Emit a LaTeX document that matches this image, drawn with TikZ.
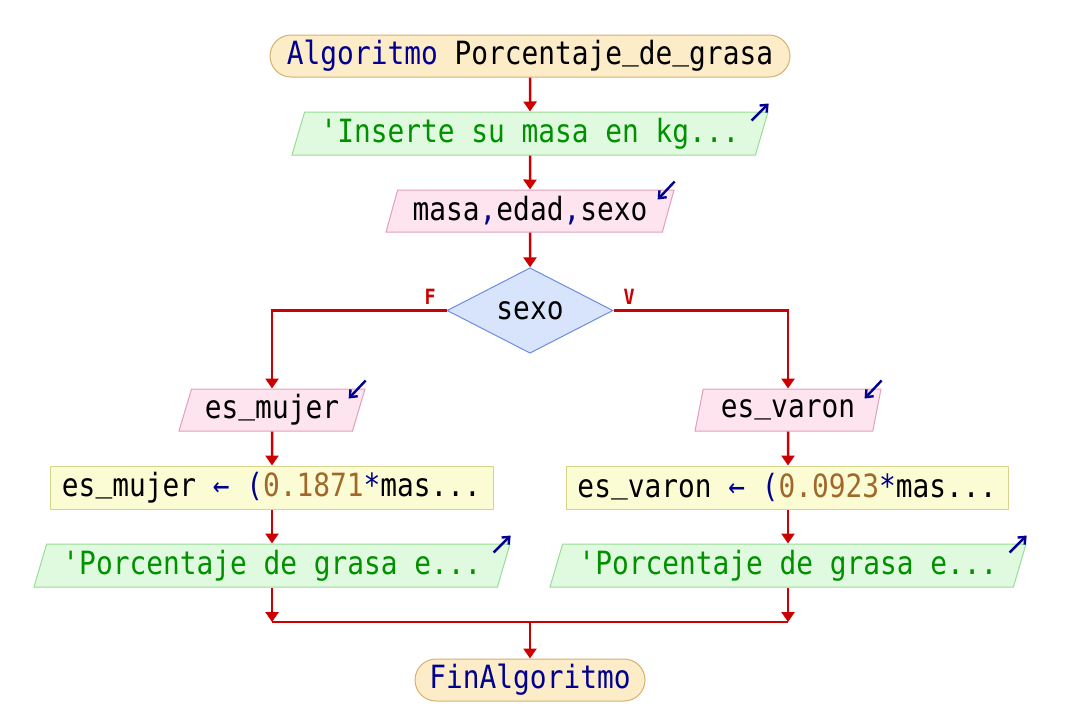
\documentclass[tikz,border=0pt]{standalone}
\usepackage{fontspec}
\usetikzlibrary{shapes.geometric,arrows.meta}
\newfontfamily\codefont[FakeStretch=0.87]{DejaVu Sans Mono}
% underscore sitting on the baseline, as in the code listing
\newcommand\usc{\raisebox{0.16em}{\_}}
\definecolor{termfill}{HTML}{FCECC8}
\definecolor{termline}{HTML}{D8B070}
\definecolor{outfill}{HTML}{E0FAE0}
\definecolor{outline}{HTML}{98DC98}
\definecolor{infill}{HTML}{FDE4EE}
\definecolor{inline}{HTML}{E0A0BC}
\definecolor{decfill}{HTML}{D8E4FC}
\definecolor{decline}{HTML}{6C8CE0}
\definecolor{asgfill}{HTML}{FCFCD4}
\definecolor{asgline}{HTML}{D4D48C}
\definecolor{flowred}{HTML}{CC0000}
\definecolor{kw}{HTML}{000090}
\definecolor{str}{HTML}{009000}
\definecolor{num}{HTML}{A0682A}
\begin{document}
\begin{tikzpicture}[x=1pt,y=-1pt,
  every node/.style={font=\codefont\fontsize{32}{35}\selectfont, inner sep=0pt},
  term/.style={rectangle, rounded corners=21pt, draw=termline, fill=termfill, line width=1pt, minimum height=42pt},
  outbox/.style={trapezium, trapezium left angle=68, trapezium right angle=112, trapezium stretches body,
    draw=outline, fill=outfill, line width=1pt, minimum height=43pt, text=str},
  inbox/.style={trapezium, trapezium left angle=68, trapezium right angle=112, trapezium stretches body,
    draw=inline, fill=infill, line width=1pt, minimum height=42pt},
  decbox/.style={diamond, draw=decline, fill=decfill, line width=1pt, minimum width=166pt, minimum height=85pt},
  asgbox/.style={rectangle, draw=asgline, fill=asgfill, line width=1pt, minimum height=43pt},
  flow/.style={draw=flowred, line width=2.5pt, -{Triangle[width=13pt,length=10pt]}},
  wire/.style={draw=flowred, line width=2.5pt},
  icon/.style={draw=kw, line width=2.4pt, -{Straight Barb[length=6pt,width=10pt]}},
  branch/.style={text=flowred, font=\codefont\bfseries\fontsize{21}{23}\selectfont}
]
\useasboundingbox (0,0) rectangle (1076,724);

% blocks of the main sequence
\node[term, minimum width=520pt] (start) at (530,56) {\textcolor{kw}{Algoritmo} Porcentaje\usc de\usc grasa};
\node[outbox, minimum width=476pt] (out1) at (530,133.5) {'Inserte su masa en kg...};
\node[inbox, minimum width=288pt] (in1) at (530,211) {masa\textcolor{kw}{,}edad\textcolor{kw}{,}sexo};
\node[decbox] (dec) at (530,310.5) {sexo};

% false branch
\node[inbox, minimum width=186pt] (inm) at (272,410) {es\usc mujer};
\node[asgbox, minimum width=443pt] (asgm) at (271.5,487.5) {es\usc mujer \textcolor{kw}{←} \textcolor{kw}{(}\textcolor{num}{0.1871}\textcolor{kw}{*}mas...};
\node[outbox, minimum width=476pt] (outm) at (272,565.5) {'Porcentaje de grasa e...};

% true branch
\node[inbox, minimum width=186pt] (inv) at (788,410) {es\usc varon};
\node[asgbox, minimum width=442pt] (asgv) at (787,487.5) {es\usc varon \textcolor{kw}{←} \textcolor{kw}{(}\textcolor{num}{0.0923}\textcolor{kw}{*}mas...};
\node[outbox, minimum width=476pt] (outv) at (788,565.5) {'Porcentaje de grasa e...};

\node[term, minimum width=230pt, text=kw] (fin) at (530,680) {FinAlgoritmo};
\coordinate (join) at (530,622);

% output / input markers
\draw[icon] ([shift={(-17,9)}]out1.top right corner) -- ([shift={(0,-8)}]out1.top right corner);
\draw[icon] ([shift={(-17,9)}]outm.top right corner) -- ([shift={(0,-8)}]outm.top right corner);
\draw[icon] ([shift={(-17,9)}]outv.top right corner) -- ([shift={(0,-8)}]outv.top right corner);
\draw[icon] ([shift={(0,-8)}]in1.top right corner) -- ([shift={(-17,10)}]in1.top right corner);
\draw[icon] ([shift={(0,-8)}]inm.top right corner) -- ([shift={(-17,10)}]inm.top right corner);
\draw[icon] ([shift={(0,-8)}]inv.top right corner) -- ([shift={(-17,10)}]inv.top right corner);

% connectors
\draw[flow] (start) -- (out1);
\draw[flow] (out1) -- (in1);
\draw[flow] (in1) -- (dec);
\draw[flow] (dec.west) -| (inm.north);
\draw[flow] (dec.east) -| (inv.north);
\draw[flow] (inm) -- (asgm.north -| inm);
\draw[flow] (asgm.south -| inm) -- (outm);
\draw[flow] (inv) -- (asgv.north -| inv);
\draw[flow] (asgv.south -| inv) -- (outv);
\draw[flow] (outm.south) -- (outm.south |- join);
\draw[flow] (outv.south) -- (outv.south |- join);
\draw[wire] (outm.south |- join) -- (outv.south |- join);
\draw[flow] (join) -- (fin);

% branch labels
\node[branch] (lf) at (430,297) {F};
\node[branch] (lv) at (629,297) {V};
\end{tikzpicture}
\end{document}
